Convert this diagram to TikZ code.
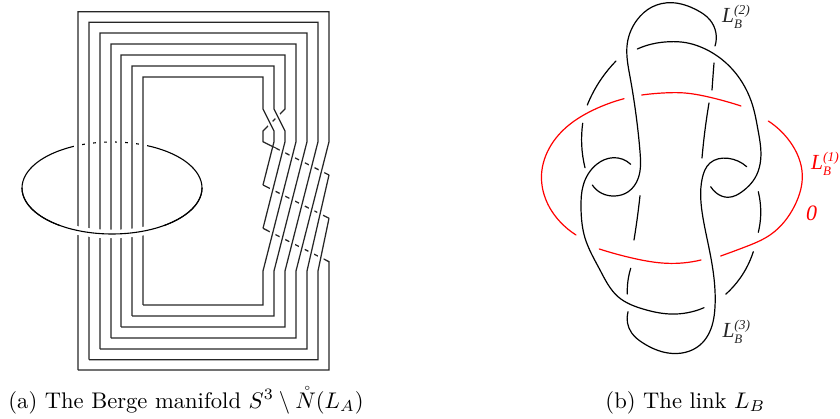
\documentclass[tikz,border=0pt]{standalone}
\usepackage{fontspec}
\usetikzlibrary{hobby}
\newfontfamily\labfont{Liberation Serif}
\newcommand{\linklabel}[1]{{\labfont\itshape\fontsize{21.5}{21.5}\selectfont L\rlap{\raisebox{8.5pt}{\fontsize{13.5}{13.5}\selectfont (#1)}}\raisebox{-6pt}{\fontsize{13}{13}\selectfont B}}}
\tikzset{
  strand/.style={line width=1.25pt,line join=miter,black!85},
  halo/.style={line width=6pt,white,shorten <=6pt,shorten >=6pt},
  knotline/.style={line width=1.2pt,black,line cap=round,use Hobby shortcut},
  redline/.style={line width=1.2pt,red,line cap=round,use Hobby shortcut},
  ringline/.style={line width=1.1pt,black},
  lab/.style={inner sep=0pt,anchor=base west},
  captiontext/.style={lab,font=\fontsize{10}{12}\selectfont,scale=2.26}
}
\begin{document}
\begin{tikzpicture}[x=1pt,y=-1pt]
\useasboundingbox (0,0) rectangle (840,419);
% ring, back part then front part around the strands
\draw[ringline] plot[smooth cycle,samples=90,domain=0:356] ({112+90*cos(\x)},{188-46*sin(\x)});
\foreach \xx in {78,89,100,111,121,132,143}{
  \draw[white,line width=8pt] (\xx,135) -- (\xx,152);
}
% rows that pass under the slanted strands
\draw[strand] (121,327) -- (121,55) -- (285,55) -- (285,109) -- (263,131) -- (263,141.7) -- (329,175);
\draw[strand] (263,185) -- (329,218.3);
\draw[strand] (263,228.3) -- (329,261.7) -- (329,370) -- (78,370);
% twist
\draw[line width=6pt,white,shorten <=2pt,shorten >=3pt] (263,109) -- (274,131);
\draw[line width=6pt,white,shorten <=2pt,shorten >=3pt] (274,109) -- (285,131);
% slanted halos
\draw[halo] (274,141.7) -- (263,185);
\draw[halo] (285,141.7) -- (263,228.3);
\draw[halo] (296,141.7) -- (263,271);
\draw[halo] (307,141.7) -- (274,271);
\draw[halo] (318,141.7) -- (285,271);
\draw[halo] (329,141.7) -- (296,271);
\draw[halo] (329,175) -- (307,271);
\draw[halo] (329,218.3) -- (318,271);
% strands over
\draw[strand] (143,305) -- (143,77) -- (263,77) -- (263,109) -- (274,131) -- (274,141.7) -- (263,185);
\draw[strand] (132,316) -- (132,66) -- (274,66) -- (274,109) -- (285,131) -- (285,141.7) -- (263,228.3);
\draw[strand] (111,338) -- (111,44) -- (296,44) -- (296,141.7) -- (263,271) -- (263,305) -- (143,305);
\draw[strand] (100,349) -- (100,33) -- (307,33) -- (307,141.7) -- (274,271) -- (274,316) -- (132,316);
\draw[strand] (89,359.7) -- (89,22.3) -- (318,22.3) -- (318,141.7) -- (285,271) -- (285,327) -- (121,327);
\draw[strand] (78,370) -- (78,11.7) -- (329,11.7) -- (329,141.7) -- (296,271) -- (296,338) -- (111,338);
\draw[strand] (329,175) -- (307,271) -- (307,349) -- (100,349);
\draw[strand] (329,218.3) -- (318,271) -- (318,359.7) -- (89,359.7);
% ring front
\draw[white,line width=8.5pt] plot[smooth,samples=40,domain=235:305] ({112+90*cos(\x)},{188-46*sin(\x)});
\draw[ringline] plot[smooth,samples=80,domain=180:360] ({112+90*cos(\x)},{188-46*sin(\x)});
% captions
\node[captiontext] (capa) at (8,408) {(a) The Berge manifold $S^3\setminus\mathring{N}(L_A)$};
\node[captiontext] (capb) at (605,408) {(b) The link $L_B$};
% link: black strands
\draw[knotline] (592.3,185) .. (601.7,193.3) .. (615,196) .. (628.3,191.7) .. (638.3,178) .. (640,151.7) .. (637.3,125) .. (630,76.7) .. (627.3,43.3) .. (637,20) .. (652,7) .. (671.7,2.7) .. (696.7,10) .. (710,20) .. (715,46);
\draw[knotline] (714,63) .. (713,76) .. (712,90);
\draw[knotline] (709,103) .. (705,130) .. (702,158);
\draw[knotline] (637.3,49) .. (652,44) .. (670,41.7) .. (685,42.5) .. (700,46.7) .. (733,70) .. (753,106.7) .. (758,130) .. (760.7,148) .. (755,178) .. (743,191) .. (728,197.3) .. (716.7,193.3) .. (710.7,186.7);
\draw[knotline] (746.7,166.7) .. (728,158.3) .. (710,163) .. (702.3,178) .. (703,218) .. (710,253) .. (715,306.7) .. (713,322) .. (700,345) .. (668,353) .. (643,343) .. (631.7,333) .. (628,311.7);
\draw[knotline] (627.3,294) .. (627.5,285) .. (630.7,268.3);
\draw[knotline] (634,240) .. (637,220) .. (640,195.7);
\draw[knotline] (630.7,164.3) .. (613.3,157.7) .. (596.7,164.3) .. (583.3,185) .. (581,208) .. (585,238) .. (600,270) .. (618,296.7) .. (643,309) .. (670,314) .. (704,307.7);
\draw[knotline] (616,61) .. (601.7,78.3) .. (587.3,105);
\draw[knotline] (582.7,123.3) .. (581.7,145) .. (585,167.7);
\draw[knotline] (758.3,191.7) .. (760.7,215) .. (758.3,232.3);
\draw[knotline] (753.3,251.7) .. (740,278.3) .. (725.7,294.3);
% link: red strands
\draw[redline] (624,98.7) .. (593.3,110) .. (563.3,130) .. (546,155) .. (541.7,172) .. (546.7,201.7) .. (560,221.7) .. (576,235);
\draw[redline] (641.7,95) .. (670,92.7) .. (680,92.7) .. (710,97.3) .. (741,106);
\draw[redline] (768.3,121) .. (790,141.7) .. (802.3,175) .. (795,205) .. (770,235) .. (745,247) .. (720.7,256);
\draw[redline] (599.3,249) .. (633.3,258.3) .. (666.7,263.3) .. (701,260);
% labels
\node[lab,text=black!85] (l2) at (722,22.7) {\linklabel{2}};
\node[lab,text=red] (l1) at (811,170) {\linklabel{1}};
\node[lab,text=black!85] (l3) at (722.3,337.7) {\linklabel{3}};
\node[lab,text=red] (zero) at (806,221) {\labfont\itshape\fontsize{22}{22}\selectfont 0};
\end{tikzpicture}
\end{document}
